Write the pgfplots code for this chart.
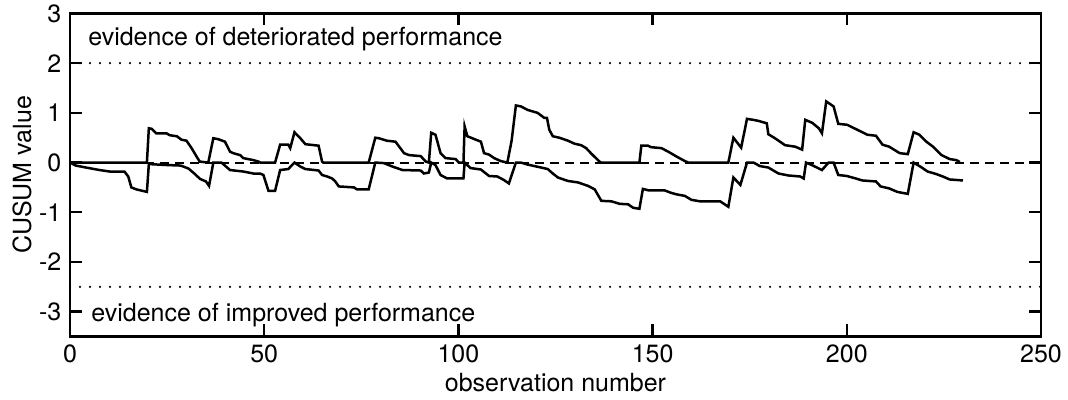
\documentclass[border=0pt]{standalone}
\usepackage{fontspec}
\setmainfont{TeX Gyre Heros}
\usepackage{pgfplots}
\pgfplotsset{compat=1.18}

\begin{document}
\fontsize{12.5pt}{15pt}\selectfont
\begin{tikzpicture}
  \begin{axis}[
      scale only axis,
      width=485.5pt, height=161.5pt,
      xmin=0, xmax=250, ymin=-3.5, ymax=3,
      xtick={0,50,100,150,200,250},
      ytick={-3,-2,-1,0,1,2,3},
      tick align=inside,
      major tick length=6pt,
      every tick/.style={black, line width=1.2pt},
      axis line style={line width=1.3pt},
      /pgf/number format/assume math mode=true,
      tick label style={font=\fontsize{12.5pt}{15pt}\selectfont},
      xlabel={observation number},
      ylabel={CUSUM value},
      xlabel style={at={(axis description cs:0.5,-0.169)}, anchor=base},
      ylabel style={at={(axis description cs:-0.0494,0.5)}, anchor=center},
      clip=false
    ]
    \coordinate (sw) at (rel axis cs:0,0);
    \coordinate (ne) at (rel axis cs:1,1);

    % thresholds and reference line
    \addplot[black, line width=1.2pt, line cap=round, dash pattern=on 0pt off 5pt]
      coordinates {(0,2) (250,2)};
    \addplot[black, line width=1.2pt, line cap=round, dash pattern=on 0pt off 5pt]
      coordinates {(0,-2.5) (250,-2.5)};
    \addplot[black, line width=1pt, dash pattern=on 4.5pt off 3pt]
      coordinates {(0,0) (250,0)};

    % upper CUSUM
    \addplot[black, line width=1.25pt] coordinates {
      (0,0) (19.8,0) (20.3,0.69) (21,0.68) (22.2,0.59) (24.8,0.59) (25.7,0.55)
      (27.5,0.53) (28.7,0.46) (30,0.44) (31.3,0.29) (32.6,0.12) (33.4,0.02)
      (35.6,0) (36.9,0.49) (38.2,0.47) (39.9,0.42) (41.2,0.22) (42,0.19)
      (43.8,0.15) (44.6,0.09) (47.2,0.05) (48.5,0.02) (49,0) (52.8,0)
      (54.1,0.36) (56.2,0.36) (56.7,0.29) (57.8,0.61) (59.3,0.49) (60.6,0.37)
      (64,0.34) (64.9,0.02) (65.2,0) (76.9,0) (78.6,0.5) (79.5,0.49)
      (81.6,0.44) (83.8,0.42) (86,0.19) (87.3,0.15) (90.3,0.13) (91.6,0.02)
      (92.4,0) (93,0.6) (94.1,0.56) (95.4,0.19) (96.7,0.09) (99.3,0.07)
      (100.1,0) (101.3,0) (101.6,0.73) (102.3,0.53) (104.5,0.46) (105.8,0.42)
      (106.6,0.19) (107.9,0.16) (109.2,0.09) (110.9,0.03) (112.6,0)
      (113.7,0.44) (114.8,1.15) (116.1,1.13) (117.8,1.06) (120.4,1.0)
      (122.1,0.9) (122.8,0.9) (123.4,0.66) (124.3,0.53) (126,0.5) (128.2,0.44)
      (129.9,0.38) (131.6,0.35) (132.9,0.29) (134.1,0.19) (136.3,0.02)
      (136.8,0) (146.6,0) (147.1,0.34) (148.8,0.34) (149.6,0.31) (152.3,0.29)
      (154,0.22) (156.2,0.12) (158.3,0.03) (159.2,0) (169.5,0) (170.8,0.5)
      (172.8,0.3) (174.3,0.88) (175.9,0.86) (177.2,0.84) (179.4,0.79)
      (179.8,0.57) (181.5,0.49) (184.1,0.35) (186.7,0.32) (188.5,0.26)
      (189.3,0.86) (191.1,0.8) (192.8,0.69) (193.6,0.59) (194.7,1.23)
      (196.6,1.13) (197.8,0.78) (200.1,0.76) (202.7,0.66) (205.3,0.56)
      (207.5,0.54) (209.2,0.36) (210.9,0.32) (213.6,0.19) (215.7,0.17)
      (217.2,0.61) (218.7,0.56) (220.5,0.42) (222.2,0.32) (224.4,0.15)
      (226.5,0.07) (228.2,0.05) (229.1,0.01)
    };

    % lower CUSUM
    \addplot[black, line width=1.25pt] coordinates {
      (0,0) (1.5,-0.06) (4.1,-0.1) (7.6,-0.15) (10.2,-0.18) (14,-0.18)
      (15,-0.28) (15.8,-0.5) (17.1,-0.54) (19.8,-0.59) (20.3,-0.03) (25,-0.05)
      (28.5,-0.06) (30.5,-0.12) (32,-0.22) (33.5,-0.33) (35,-0.38) (35.8,-0.47)
      (36.9,0) (39,0) (41.2,-0.15) (44.6,-0.18) (47.2,-0.22) (48.9,-0.22)
      (49.8,-0.25) (51.1,-0.57) (52.8,-0.57) (54.1,-0.15) (56.2,-0.13)
      (57.8,0) (59.3,-0.08) (60.6,-0.13) (64,-0.16) (64.9,-0.25) (66.2,-0.28)
      (67.5,-0.32) (68.3,-0.38) (69.2,-0.48) (73.1,-0.5) (73.9,-0.54)
      (76.9,-0.54) (78.6,0) (80.8,-0.01) (83,-0.08) (85.6,-0.15) (90.3,-0.16)
      (91.1,-0.22) (92.4,-0.2) (93,0) (94.1,-0.05) (95.4,-0.25) (97.1,-0.32)
      (101.3,-0.32) (101.6,0) (103.1,-0.11) (105.8,-0.14) (107.9,-0.27)
      (110,-0.28) (111.7,-0.35) (113,-0.42) (114.8,0) (116.1,0) (117.8,-0.04)
      (121.3,-0.1) (123,-0.13) (124.3,-0.22) (125.6,-0.3) (128.2,-0.37)
      (130.8,-0.4) (133.4,-0.47) (135.1,-0.54) (136.8,-0.77) (139.4,-0.78)
      (141.5,-0.83) (143.7,-0.84) (145,-0.91) (146.6,-0.93) (147.5,-0.53)
      (149,-0.56) (153.1,-0.56) (154.8,-0.61) (156.2,-0.64) (158.3,-0.67)
      (160,-0.75) (162.2,-0.78) (167.4,-0.78) (169.5,-0.89) (170.8,-0.3)
      (172.6,-0.45) (174.3,0) (176,0) (177.6,-0.07) (179.8,-0.1) (182.4,-0.22)
      (185,-0.26) (188,-0.28) (188.9,-0.32) (189.5,0) (191,-0.05)
      (193.6,-0.15) (195.3,0) (196.6,0) (197.8,-0.25) (200,-0.27)
      (202.3,-0.32) (204,-0.36) (207.5,-0.38) (208.7,-0.48) (210.9,-0.52)
      (213,-0.59) (215.7,-0.63) (217.2,0) (219.1,-0.09) (220.8,-0.18)
      (223,-0.23) (224.7,-0.28) (226.5,-0.34) (229.9,-0.36)
    };

    \node[anchor=base west, inner sep=0pt] at (axis cs:4.6,2.35)
      {evidence of deteriorated performance};
    \node[anchor=base west, inner sep=0pt] at (axis cs:5.4,-3.2)
      {evidence of improved performance};
  \end{axis}
  \pgfresetboundingbox
  \path[use as bounding box] ([shift={(-35pt,-31.75pt)}]sw) rectangle ([shift={(13.5pt,6.75pt)}]ne);
\end{tikzpicture}
\end{document}
